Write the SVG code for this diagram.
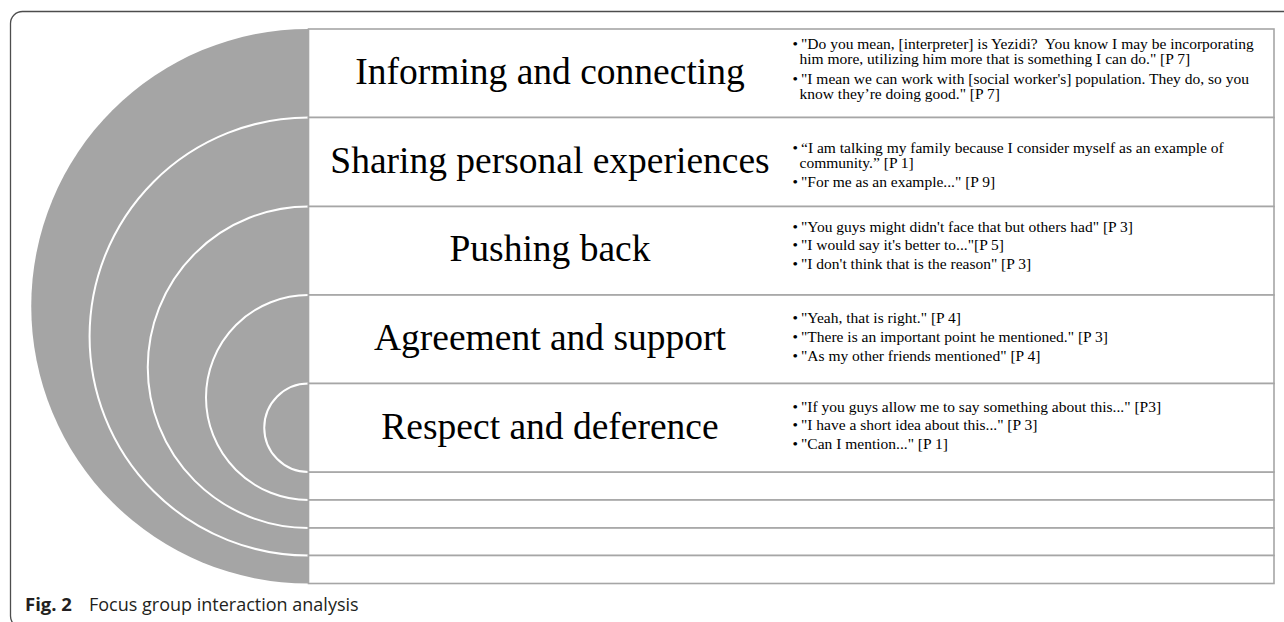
<svg xmlns="http://www.w3.org/2000/svg" width="1284" height="622" viewBox="0 0 1284 622">
<style>
.frame{fill:none;stroke:#4d4d4d;stroke-width:1.3}
.disk{fill:#a5a5a5;stroke:none}
.ring{fill:#a5a5a5;stroke:#ffffff;stroke-width:2}
.row{fill:#ffffff;stroke:#a6a6a6;stroke-width:1.6}
.title{font-family:"Liberation Serif","Times New Roman",serif;font-size:37.5px;text-anchor:middle;fill:#000}
.q{font-family:"Liberation Serif","Times New Roman",serif;font-size:15.5px;fill:#000;white-space:pre}
.b{font-family:"Liberation Serif","Times New Roman",serif;font-size:15.5px;fill:#000}
.cap{font-family:"Open Sans","Liberation Sans",sans-serif;font-size:18px;fill:#231f20}
</style>
<rect class="frame" x="10.5" y="11.5" width="1300" height="616.5" rx="12" ry="12"/>
<g id="target">
<path class="disk" d="M308.5 29 A277.25 277.25 0 0 0 308.5 583.5 Z"/>
<path class="ring" d="M308.5 117.5 A219 219 0 0 0 308.5 555.5"/>
<path class="ring" d="M308.5 206.5 A160.75 160.75 0 0 0 308.5 528"/>
<path class="ring" d="M308.5 295 A102.5 102.5 0 0 0 308.5 500"/>
<path class="ring" d="M308.5 383.5 A44.25 44.25 0 0 0 308.5 472"/>
</g>
<g id="empty-rows">
<rect class="row" x="308.5" y="472" width="965.5" height="28"/>
<rect class="row" x="308.5" y="500" width="965.5" height="28"/>
<rect class="row" x="308.5" y="528" width="965.5" height="27.5"/>
<rect class="row" x="308.5" y="555.5" width="965.5" height="28"/>
</g>
<g id="informing">
<rect class="row" x="308.5" y="29" width="965.5" height="88.5"/>
<text class="title" x="550" y="83.5">Informing and connecting</text>
<text class="b" x="792.5" y="48.8">•</text>
<text class="q" x="801" y="48.8">"Do you mean, [interpreter] is Yezidi?  You know I may be incorporating</text>
<text class="q" x="799.5" y="64">him more, utilizing him more that is something I can do." [P 7]</text>
<text class="b" x="792.5" y="83.8">•</text>
<text class="q" x="801" y="83.8">"I mean we can work with [social worker's] population. They do, so you</text>
<text class="q" x="799.5" y="99">know they’re doing good." [P 7]</text>
</g>
<g id="sharing">
<rect class="row" x="308.5" y="117.5" width="965.5" height="89"/>
<text class="title" x="550" y="172.5">Sharing personal experiences</text>
<text class="b" x="792.5" y="152.5">•</text>
<text class="q" x="801" y="152.5">“I am talking my family because I consider myself as an example of</text>
<text class="q" x="799.5" y="167.8">community.” [P 1]</text>
<text class="b" x="792.5" y="186.8">•</text>
<text class="q" x="801" y="186.8">"For me as an example..." [P 9]</text>
</g>
<g id="pushing">
<rect class="row" x="308.5" y="206.5" width="965.5" height="88.5"/>
<text class="title" x="550" y="261">Pushing back</text>
<text class="b" x="792.5" y="231.5">•</text>
<text class="q" x="801" y="231.5">"You guys might didn't face that but others had" [P 3]</text>
<text class="b" x="792.5" y="250.3">•</text>
<text class="q" x="801" y="250.3">"I would say it's better to..."[P 5]</text>
<text class="b" x="792.5" y="269.1">•</text>
<text class="q" x="801" y="269.1">"I don't think that is the reason" [P 3]</text>
</g>
<g id="agreement">
<rect class="row" x="308.5" y="295" width="965.5" height="88.5"/>
<text class="title" x="550" y="349.5">Agreement and support</text>
<text class="b" x="792.5" y="323">•</text>
<text class="q" x="801" y="323">"Yeah, that is right." [P 4]</text>
<text class="b" x="792.5" y="341.8">•</text>
<text class="q" x="801" y="341.8">"There is an important point he mentioned." [P 3]</text>
<text class="b" x="792.5" y="360.6">•</text>
<text class="q" x="801" y="360.6">"As my other friends mentioned" [P 4]</text>
</g>
<g id="respect">
<rect class="row" x="308.5" y="383.5" width="965.5" height="88.5"/>
<text class="title" x="550" y="438.5">Respect and deference</text>
<text class="b" x="792.5" y="411.5">•</text>
<text class="q" x="801" y="411.5">"If you guys allow me to say something about this..." [P3]</text>
<text class="b" x="792.5" y="430.3">•</text>
<text class="q" x="801" y="430.3">"I have a short idea about this..." [P 3]</text>
<text class="b" x="792.5" y="449.1">•</text>
<text class="q" x="801" y="449.1">"Can I mention..." [P 1]</text>
</g>
<g id="caption">
<text class="cap" x="25" y="611"><tspan font-weight="bold" font-size="18.5px">Fig. 2</tspan><tspan x="89">Focus group interaction analysis</tspan></text>
</g>
</svg>
